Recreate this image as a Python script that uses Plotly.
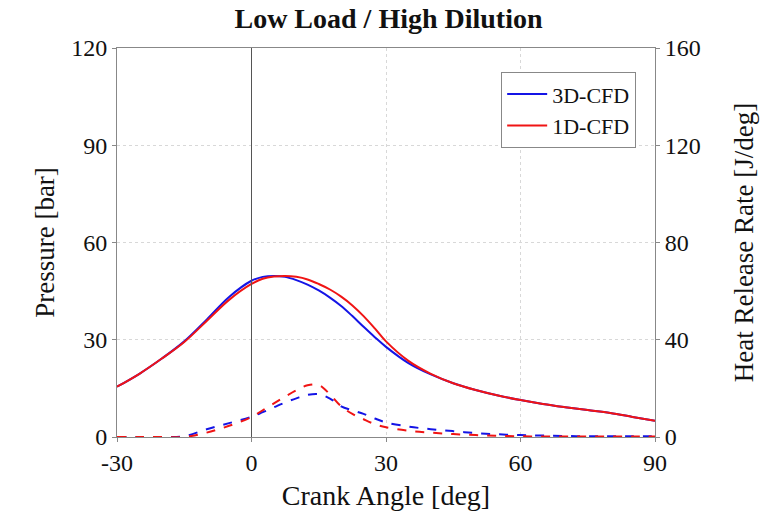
import plotly.graph_objects as go

crank = [-30, -25, -20, -15, -10, -5, 0, 2.5, 5, 7.5, 10, 12.5, 15, 17.5, 20, 22.5, 25, 27.5, 30,
         35, 40, 45, 50, 55, 60, 65, 70, 75, 80, 85, 90]

p_3d = [15.5, 19.5, 24.2, 29.5, 36.2, 43.2, 48.2, 49.4, 49.7, 49.4, 48.4, 47.0, 45.2, 43.0, 40.4,
        37.3, 34.0, 30.8, 27.8, 22.8, 19.3, 16.6, 14.5, 12.8, 11.4, 10.2, 9.2, 8.3, 7.4, 6.2, 5.0]
p_1d = [15.5, 19.5, 24.2, 29.3, 35.8, 42.3, 47.2, 48.8, 49.5, 49.7, 49.4, 48.6, 47.2, 45.5, 43.3,
        40.6, 37.3, 33.5, 29.5, 23.5, 19.5, 16.6, 14.5, 12.8, 11.4, 10.2, 9.2, 8.3, 7.4, 6.2, 5.0]

hrr_3d = [0, 0, 0, 0.3, 3.2, 5.7, 8.3, 10.2, 12.2, 14.2, 15.9, 17.3, 17.6, 15.8, 12.6, 11.0, 9.5,
          7.6, 6.0, 4.3, 3.2, 2.4, 1.6, 1.1, 0.8, 0.6, 0.4, 0.3, 0.3, 0.3, 0.3]
hrr_1d = [0, 0, 0, 0, 1.8, 4.6, 8.2, 11.0, 13.8, 16.6, 19.2, 21.3, 21.4, 17.5, 12.6, 9.5, 7.3,
          5.3, 4.0, 2.6, 1.8, 1.2, 0.8, 0.5, 0.3, 0.2, 0.2, 0.2, 0.2, 0.2, 0.2]

x_ticks = [-30, 0, 30, 60, 90]
x_ticklabels = ["-30", "0", "30", "60", "90"]
p_ticks = [0, 30, 60, 90, 120]
hrr_ticks = [0, 40, 80, 120, 160]

BLUE = "#1414e6"
RED = "#f01414"
FONT = "Liberation Serif"

fig = go.Figure()
fig.add_trace(go.Scatter(x=crank, y=p_3d, mode="lines", name="3D-CFD", line=dict(color=BLUE, width=2, shape="spline")))
fig.add_trace(go.Scatter(x=crank, y=p_1d, mode="lines", name="1D-CFD", line=dict(color=RED, width=2, shape="spline")))
fig.add_trace(go.Scatter(x=crank, y=hrr_3d, mode="lines", name="3D-CFD HRR", showlegend=False, yaxis="y2",
                         line=dict(color=BLUE, width=2, dash="dash", shape="spline")))
fig.add_trace(go.Scatter(x=crank, y=hrr_1d, mode="lines", name="1D-CFD HRR", showlegend=False, yaxis="y2",
                         line=dict(color=RED, width=2, dash="dash", shape="spline")))

fig.add_shape(type="line", xref="x", yref="paper", x0=0, x1=0, y0=0, y1=1, line=dict(color="#555555", width=1))

axis_common = dict(showline=True, linecolor="#888888", linewidth=1, ticks="outside", ticklen=4,
                   tickcolor="#888888", tickfont=dict(family=FONT, size=24, color="#111111"), zeroline=False)

fig.update_layout(
    width=777, height=523,
    margin=dict(l=117, r=122, t=48, b=86),
    paper_bgcolor="white", plot_bgcolor="white",
    font=dict(family=FONT, color="#111111"),
    title=dict(text="<b>Low Load / High Dilution</b>", x=0.5, xanchor="center", y=0.965, yanchor="middle",
               font=dict(family=FONT, size=28, color="#111111")),
    xaxis=dict(range=[-30, 90], tickvals=x_ticks, ticktext=x_ticklabels, mirror=True,
               showgrid=True, gridcolor="#d8d8d8", griddash="dot", gridwidth=1,
               title=dict(text="Crank Angle [deg]", font=dict(family=FONT, size=28), standoff=10),
               **axis_common),
    yaxis=dict(range=[0, 120], tickvals=p_ticks, mirror=True,
               showgrid=True, gridcolor="#d8d8d8", griddash="dot", gridwidth=1,
               title=dict(text="Pressure [bar]", font=dict(family=FONT, size=27), standoff=8),
               **axis_common),
    yaxis2=dict(range=[0, 160], tickvals=hrr_ticks, overlaying="y", side="right",
                showgrid=False,
                title=dict(text="Heat Release Rate [J/deg]", font=dict(family=FONT, size=27), standoff=34),
                **axis_common),
    legend=dict(x=0.965, y=0.938, xanchor="right", yanchor="top", bgcolor="white",
                bordercolor="#888888", borderwidth=1, font=dict(family=FONT, size=22),
                tracegroupgap=0, itemwidth=40),
)

fig.write_html("out.html")
